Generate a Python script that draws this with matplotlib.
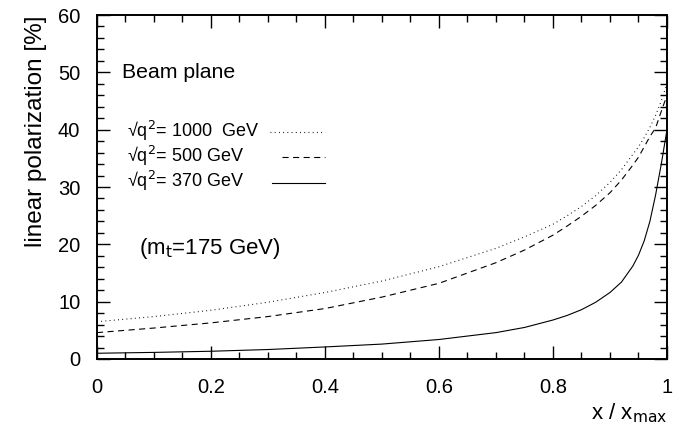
import matplotlib
matplotlib.use('Agg')
import matplotlib.pyplot as plt
from matplotlib.ticker import MultipleLocator

plt.rcParams['font.family'] = ['Liberation Sans', 'DejaVu Sans']

# -----------------------------------------------
# values

x_vals = [0.0, 0.1, 0.2, 0.3, 0.4, 0.5, 0.6, 0.7, 0.75, 0.8, 0.825, 0.85,
          0.875, 0.9, 0.92, 0.94, 0.95, 0.96, 0.97, 0.98, 0.99, 1.0]

pol_1000 = [6.5, 7.4, 8.5, 9.9, 11.6, 13.6, 16.1, 19.3, 21.3, 23.5, 25.0, 26.6,
            28.5, 30.8, 33.0, 35.7, 37.0, 38.6, 40.4, 42.5, 45.0, 48.0]
pol_500 = [4.6, 5.4, 6.3, 7.4, 8.8, 10.8, 13.2, 16.8, 19.0, 21.6, 23.2, 24.9,
           26.8, 29.0, 31.2, 33.8, 35.2, 37.0, 38.8, 40.3, 43.2, 46.0]
pol_370 = [1.0, 1.15, 1.35, 1.65, 2.1, 2.6, 3.4, 4.6, 5.5, 6.8, 7.6, 8.6,
           9.9, 11.6, 13.4, 16.2, 18.1, 20.6, 24.0, 28.6, 34.0, 40.0]

legend_labels = ['\u221aq$^2$= 1000  GeV', '\u221aq$^2$= 500 GeV', '\u221aq$^2$= 370 GeV']

# -----------------------------------------------

fig = plt.figure(figsize=(6.85, 4.29), dpi=100)
ax = fig.add_axes([0.1416, 0.1632, 0.8321, 0.8018])

lw = 0.8
ax.plot(x_vals, pol_1000, color='black', lw=lw, linestyle=(0, (0.8, 3.0)))
ax.plot(x_vals, pol_500, color='black', lw=lw, linestyle=(0, (5.5, 4.0)))
ax.plot(x_vals, pol_370, color='black', lw=lw, linestyle='-')

ax.set_xlim(0, 1)
ax.set_ylim(0, 60)

ax.xaxis.set_major_locator(MultipleLocator(0.2))
ax.xaxis.set_minor_locator(MultipleLocator(0.05))
ax.yaxis.set_major_locator(MultipleLocator(10))
ax.yaxis.set_minor_locator(MultipleLocator(2))
ax.set_xticks([0, 0.2, 0.4, 0.6, 0.8, 1.0], ['0', '0.2', '0.4', '0.6', '0.8', '1'])

ax.tick_params(which='both', direction='in', top=True, right=True,
               labelsize=14.5, width=1.0)
ax.tick_params(which='major', length=9.5)
ax.tick_params(which='minor', length=5)
ax.tick_params(axis='x', pad=14)
ax.tick_params(axis='y', pad=12)

for sp in ax.spines.values():
    sp.set_linewidth(1.4)

ax.set_ylabel('linear polarization [%]', fontsize=17.5, loc='top', labelpad=8)
ax.set_xlabel('x / x$_{\\mathrm{max}}$', fontsize=16, loc='right', labelpad=3)

ax.text(0.044, 0.832, 'Beam plane', transform=ax.transAxes, fontsize=15.3,
        va='center', ha='left')

# legend block
styles = [(0, (0.8, 3.0)), (0, (5.5, 4.0)), '-']
label_y = [0.664, 0.591, 0.518]
line_start = [0.303, 0.324, 0.307]
for lab, ls, yy, xs in zip(legend_labels, styles, label_y, line_start):
    ax.text(0.052, yy, lab, transform=ax.transAxes, fontsize=13,
            va='center', ha='left')
    ax.plot([xs, 0.400], [yy - 0.005, yy - 0.005], transform=ax.transAxes,
            color='black', lw=lw, linestyle=ls)

ax.text(0.074, 0.32, '(m$_{\\mathrm{t}}$=175 GeV)', transform=ax.transAxes,
        fontsize=16, va='center', ha='left')

fig.savefig('out.png', dpi=100)
